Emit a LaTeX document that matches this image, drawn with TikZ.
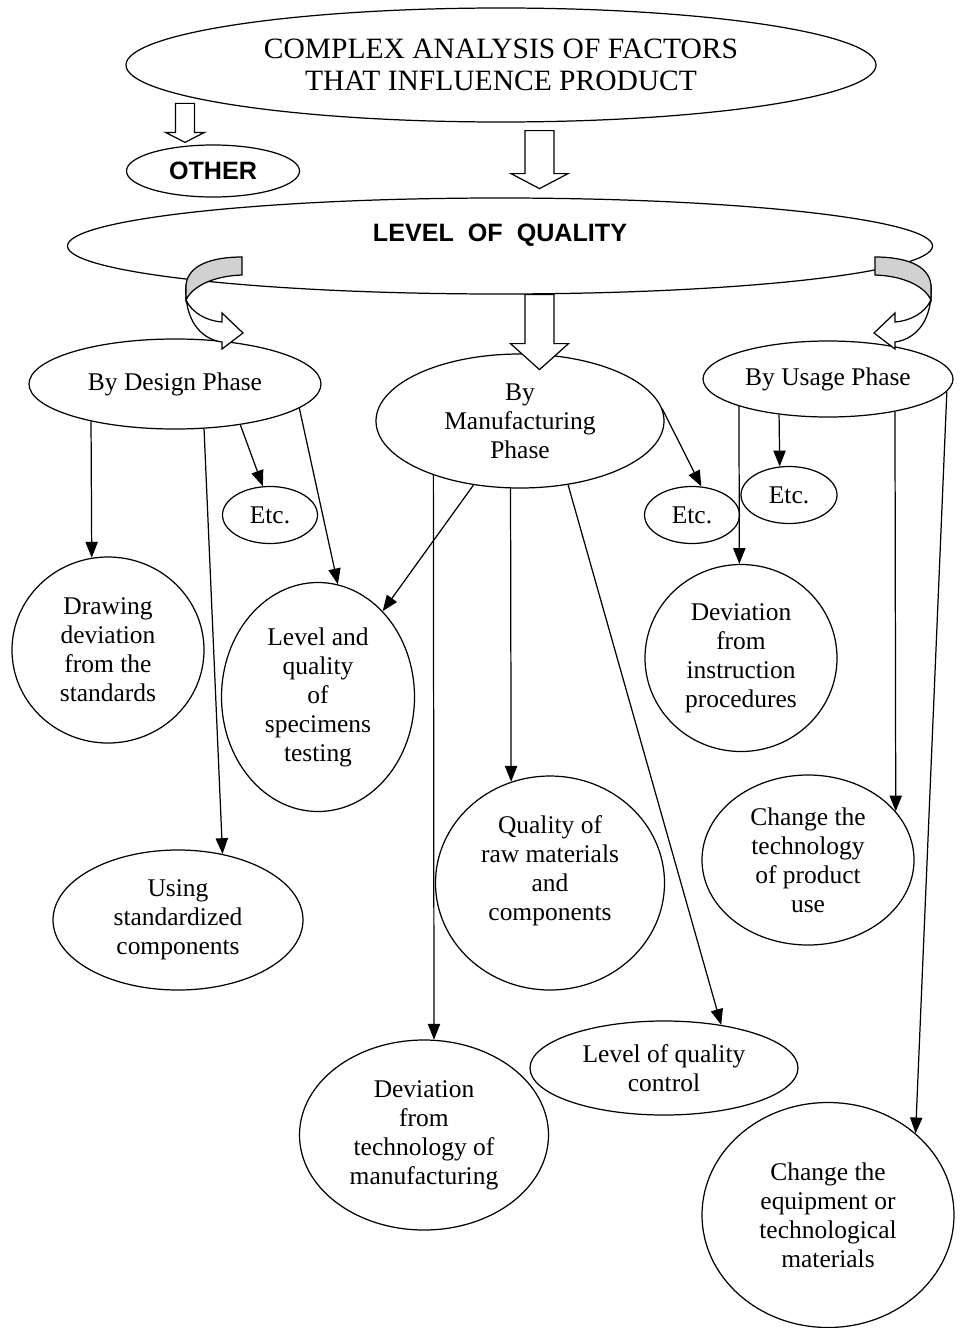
\documentclass[tikz,border=0pt]{standalone}
\usepackage{fontspec}
\setmainfont{Liberation Serif}
\setsansfont{Liberation Sans}
\usetikzlibrary{shapes.geometric, arrows.meta, calc}
\newcommand{\pxu}{0.02cm}

\tikzset{
    dims/.style 2 args={minimum width=#1*\pxu, minimum height=#2*\pxu},
    pics/blockarrow/.style n args={4}{code={
        \draw[fill=white] (-#3,0) -- (-#3,#1-#2) -- (-#4,#1-#2) -- (0,#1) -- (#4,#1-#2) -- (#3,#1-#2) -- (#3,0) -- cycle;
    }},
    pics/uturn/.style={code={
        \draw[fill=white] (-56,28) .. controls (-58,62) and (-42,82) .. (-20,85) -- (-20,92) -- (1,76) -- (-20,56) -- (-20,65) .. controls (-35,64) and (-50,56) .. (-56,43) -- cycle;
        \draw[fill=black!18] (0,0) .. controls (-30,0) and (-54,8) .. (-56,28) -- (-56,43) .. controls (-50,30) and (-30,19) .. (0,18) -- cycle;
    }}
}

\begin{document}
\begin{tikzpicture}[
    x=\pxu, y=-\pxu,
    line width=0.7pt,
    oval/.style={ellipse, draw, inner sep=0pt, align=center, font=\fontsize{14.5}{16.5}\selectfont},
    plaintext/.style={align=center, inner sep=0pt, font=\fontsize{14.5}{16.5}\selectfont},
    heading/.style={align=center, inner sep=0pt, font=\fontsize{16.8}{18.2}\selectfont},
    boldlabel/.style={inner sep=0pt, font=\fontsize{14.3}{16}\selectfont\sffamily\bfseries},
    link/.style={-{Triangle[length=9pt, width=7pt]}}
]
\useasboundingbox (0,0) rectangle (962,1328);
% ---------------- HEAD ----------------
\node[oval, dims={750}{114}, heading] (top) at (501,65) {COMPLEX ANALYSIS OF FACTORS\\THAT INFLUENCE PRODUCT};
\node[oval, dims={173}{52}, boldlabel] (other) at (213,171) {OTHER};
\node[oval, dims={865}{96}] (level) at (500,246) {};
\node[boldlabel] (leveltext) at (500,235) {LEVEL\ \ OF\ \ QUALITY};
% ---------------- PHASES ----------------
\node[oval, dims={292}{90}] (design) at (175,384) {By Design Phase};
\node[oval, dims={288}{134}] (manuf) at (520,421) {By\\Manufacturing\\Phase};
\node[oval, dims={250}{76}] (usage) at (828,379) {By Usage Phase};
\node[oval, dims={95}{57}] (etcA) at (270,515) {Etc.};
\node[oval, dims={95}{57}] (etcB) at (692,515) {Etc.};
\node[oval, dims={96}{57}] (etcC) at (789,495) {Etc.};
% ---------------- FACTORS ----------------
\node[oval, dims={192}{186}] (drawing) at (108,650) {Drawing\\deviation\\from the\\standards};
\node[oval, dims={193}{229}] (specimens) at (318,697) {Level and\\quality\\of\\specimens\\testing};
\node[oval, dims={250}{140}] (standard) at (178,920) {Using\\standardized\\components};
\node[oval, dims={229}{214}] (rawmat) at (550,883) {};
\node[plaintext] (rawtext) at (550,871) {Quality of\\raw materials\\and\\components};
\node[oval, dims={249}{190}] (devtech) at (424,1135) {Deviation\\from\\technology of\\manufacturing};
\node[oval, dims={268}{94}] (qcontrol) at (664,1068) {Level of quality\\control};
\node[oval, dims={192}{187}] (devinstr) at (741,658) {Deviation\\from\\instruction\\procedures};
\node[oval, dims={212}{170}] (techuse) at (808,860) {Change the\\technology\\of product\\use};
\node[oval, dims={252}{225}] (equip) at (828,1215) {Change the\\equipment or\\technological\\materials};
% ---------------- Links ----------------
\draw[link] (design.204) -- (drawing.100);
\draw[link] (design.303) -- (standard.56);
\draw[link] (design.328) -- (etcA.104);
\draw[link] (design.349) -- (specimens.80);
\draw[link] (manuf.234) -- (specimens.53);
\draw[link] (manuf.212) -- (devtech.84);
\draw[link] (manuf.262) -- (rawmat.111);
\draw[link] (manuf.307) -- (qcontrol.37);
\draw[link] (manuf.5) -- (etcB.72);
\draw[link] (usage.197) -- (devinstr.91);
\draw[link] (usage.216) -- (etcC.108);
\draw[link] (usage.334) -- (techuse.29);
\draw[link] (usage.354) -- (equip.43);
% ---------------- Block arrows ----------------
\pic at ($(other.north)+(-28,-41)$) {blockarrow={39}{10}{9.5}{19.5}};
\pic at ($(top.south)+(38.5,8)$) {blockarrow={58}{15}{14.5}{28.5}};
\pic at ($(level.south)+(39.5,0)$) {blockarrow={75}{26}{14.5}{29}};
\pic at (242,257) {uturn};
\pic[xscale=-1] at (875,257) {uturn};
\end{tikzpicture}
\end{document}
